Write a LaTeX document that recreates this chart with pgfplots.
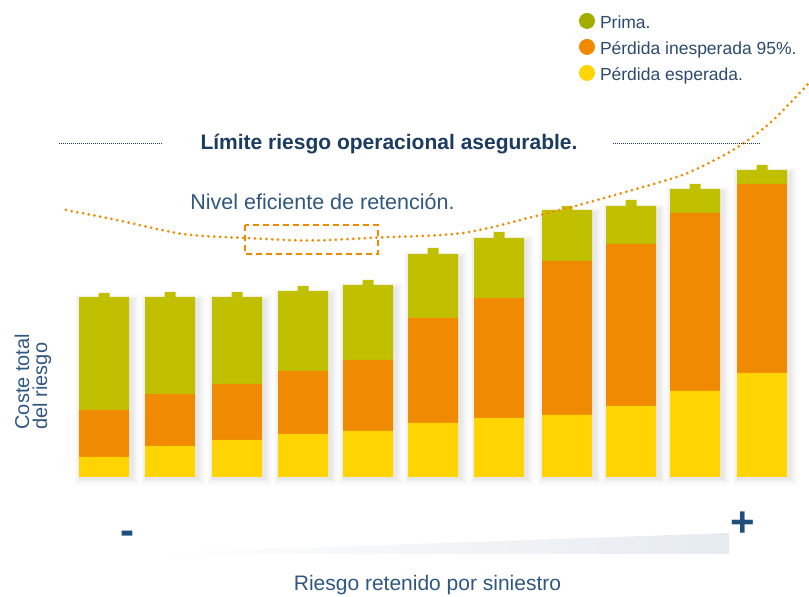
\documentclass[border=0pt]{standalone}
\usepackage{fontspec}
\setmainfont{Liberation Sans}
\usepackage{pgfplots}
\pgfplotsset{compat=1.18}
\usepackage{pgfplotstable}

\definecolor{cYel}{HTML}{FFD400}
\definecolor{cOra}{HTML}{F08A00}
\definecolor{cGre}{HTML}{C0C000}
\definecolor{cGreLeg}{HTML}{A3AD00}
\definecolor{navy}{HTML}{1B3B60}
\definecolor{txt}{HTML}{2F5780}
\definecolor{legtxt}{HTML}{2B4A6E}
\definecolor{sign}{HTML}{1F4E7A}
\definecolor{wedge}{HTML}{E6EBF0}

% one row per bar: x = bar centre (px), heights in px
\pgfplotstableread{
x   yel ora gre nub
104 20  47  113 4
170 31  52  97  5
237 37  56  87  5
303 43  63  80  5
368 46  71  75  5
433 54  105 64  6
499 59  120 60  6
567 62  154 51  4
631 71  162 38  6
695 86  178 24  5
762 104 189 14  5
}\costes

\pgfplotsset{canvas/.style={at={(0,0)}, anchor=south west, scale only axis,
    width=809pt, height=597pt, xmin=0, xmax=809, hide axis, clip=false}}

\begin{document}
\begin{tikzpicture}
\path[use as bounding box] (0,0) rectangle (809pt,597pt);

% soft shadows behind the bars
\begin{axis}[canvas, ymin=-112, ymax=485, ybar]
\addplot[fill=black, draw=none, opacity=0.025, bar width=64pt, bar shift=3pt]
  table[x=x, y expr=\thisrow{yel}+\thisrow{ora}+\thisrow{gre}+10] {\costes};
\end{axis}
\begin{axis}[canvas, ymin=-115, ymax=482, ybar]
\addplot[fill=black, draw=none, opacity=0.03, bar width=59pt, bar shift=2.5pt]
  table[x=x, y expr=\thisrow{yel}+\thisrow{ora}+\thisrow{gre}+5] {\costes};
\end{axis}
\begin{axis}[canvas, ymin=-117, ymax=480, ybar]
\addplot[fill=black, draw=none, opacity=0.035, bar width=55pt, bar shift=2pt]
  table[x=x, y expr=\thisrow{yel}+\thisrow{ora}+\thisrow{gre}+1] {\costes};
\end{axis}

% stacked bars
\begin{axis}[canvas, ymin=-120, ymax=477, ybar stacked, bar width=50pt,
    reverse legend, legend cell align=left,
    legend style={at={(axis cs:579,465)}, anchor=north west, draw=none, fill=none,
      inner sep=0pt, outer sep=0pt, row sep=5.5pt, column sep=5pt,
      nodes={inner sep=0pt, text height=16.5pt, text depth=4pt,
        font=\fontsize{17.5}{20}\selectfont, text=legtxt}}]
\addplot[fill=cYel, draw=none,
  legend image code/.code={\fill[cYel] (8pt,1.3pt) circle (8pt);}]
  table[x=x, y=yel] {\costes};
\addlegendentry{Pérdida esperada.}
\addplot[fill=cOra, draw=none,
  legend image code/.code={\fill[cOra] (8pt,1.3pt) circle (8pt);}]
  table[x=x, y=ora] {\costes};
\addlegendentry{Pérdida inesperada 95\%.}
\addplot[fill=cGre, draw=none,
  legend image code/.code={\fill[cGreLeg] (8pt,1.3pt) circle (8pt);}]
  table[x=x, y=gre] {\costes};
\addlegendentry{Prima.}
\addplot[fill=cGre, draw=none, bar width=11pt, forget plot]
  table[x=x, y=nub] {\costes};
\end{axis}

% cost curve, annotations and axis texts
\begin{axis}[canvas, ymin=-120, ymax=477]
\addplot[cOra, line width=3pt, line cap=round, dash pattern=on 0pt off 5.8pt,
    smooth, tension=0.5, no markers]
  coordinates {(66,267) (117,257) (183,243) (245,239) (310,236.5) (378,239.5)
    (463,244) (540,262) (590,275) (657,294) (690,305) (733,327) (770,354) (808,393)};

\draw[cOra, line width=1.8pt, dash pattern=on 6pt off 4pt]
  (axis cs:245,252) rectangle (axis cs:378,223);

\draw[navy, line width=0.8pt, dash pattern=on 0.8pt off 1.2pt]
  (axis cs:59,334) -- (axis cs:163,334);
\draw[navy, line width=0.8pt, dash pattern=on 0.8pt off 1.2pt]
  (axis cs:613,334) -- (axis cs:760,334);
\node[anchor=base, font=\fontsize{21}{24}\selectfont\bfseries, text=navy]
  at (axis cs:389,327.5) {Límite riesgo operacional asegurable.};
\node[anchor=base, font=\fontsize{21.5}{24}\selectfont, text=txt]
  at (axis cs:322.5,267) {Nivel eficiente de retención.};

\node[anchor=base west, rotate=90, font=\fontsize{20}{22}\selectfont, text=txt]
  at (axis cs:29,44) {Coste total};
\node[anchor=base west, rotate=90, font=\fontsize{20}{22}\selectfont, text=txt]
  at (axis cs:47,44) {del riesgo};

\shade[left color=white, right color=wedge]
  (axis cs:127,-77) -- (axis cs:729,-56) -- (axis cs:729,-77) -- cycle;
\node[anchor=base, font=\fontsize{42}{42}\selectfont\bfseries, text=sign]
  at (axis cs:127,-68) {-};
\node[anchor=base, font=\fontsize{42}{42}\selectfont\bfseries, text=sign]
  at (axis cs:743,-60) {+};
\node[anchor=base, font=\fontsize{21}{24}\selectfont, text=txt]
  at (axis cs:427.5,-114) {Riesgo retenido por siniestro};
\end{axis}
\end{tikzpicture}
\end{document}
